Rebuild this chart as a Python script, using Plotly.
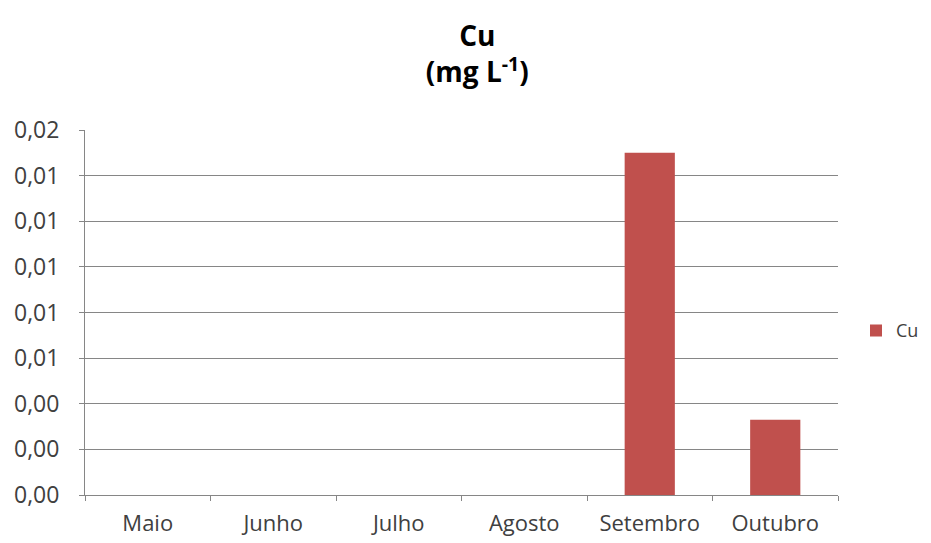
import plotly.graph_objects as go

months = ["Maio", "Junho", "Julho", "Agosto", "Setembro", "Outubro"]
cu_values = [0, 0, 0, 0, 0.0150, 0.0033]
series_name = "Cu"

font_family = "Open Sans, Noto Sans, sans-serif"

W, H = 923, 535  # page body adds an 8px margin

fig = go.Figure()
fig.add_trace(go.Bar(
    x=months, y=cu_values, name=series_name,
    marker=dict(color="#C0504D", line=dict(width=0)),
    showlegend=True,
))

fig.update_layout(
    width=W, height=H,
    paper_bgcolor="white", plot_bgcolor="white",
    margin=dict(l=77, r=93, t=122, b=48, autoexpand=False),
    separators=",.",
    bargap=0.6,
    font=dict(family=font_family, color="#404040", size=23),
    title=dict(
        text="<b>Cu</b><br><b>(mg L<sup>-1</sup>)</b>",
        x=0.521, xanchor="center", xref="paper",
        y=1 - 38 / H, yanchor="top", yref="container",
        font=dict(size=28, color="#000000", family=font_family),
    ),
    legend=dict(
        x=848 / W, xref="container", xanchor="left",
        y=0.45, yanchor="middle",
        font=dict(size=18, color="#404040"),
        bgcolor="rgba(0,0,0,0)",
        itemwidth=30,
    ),
    xaxis=dict(
        type="category",
        showline=True, linecolor="#868686", linewidth=1,
        ticks="outside", ticklen=5, tickcolor="#868686",
        tickson="boundaries",
        showgrid=False,
        automargin=False,
        ticklabelstandoff=9,
        tickfont=dict(size=22, color="#404040"),
    ),
    yaxis=dict(
        range=[0, 0.016], dtick=0.002, tick0=0,
        tickformat=".2f",
        showline=True, linecolor="#868686", linewidth=1,
        ticks="outside", ticklen=5, tickcolor="#868686",
        showgrid=True, gridcolor="#868686", gridwidth=1,
        zeroline=False,
        automargin=False,
        ticklabelstandoff=15,
        tickfont=dict(size=23, color="#404040"),
    ),
)

fig.write_html("out.html")
